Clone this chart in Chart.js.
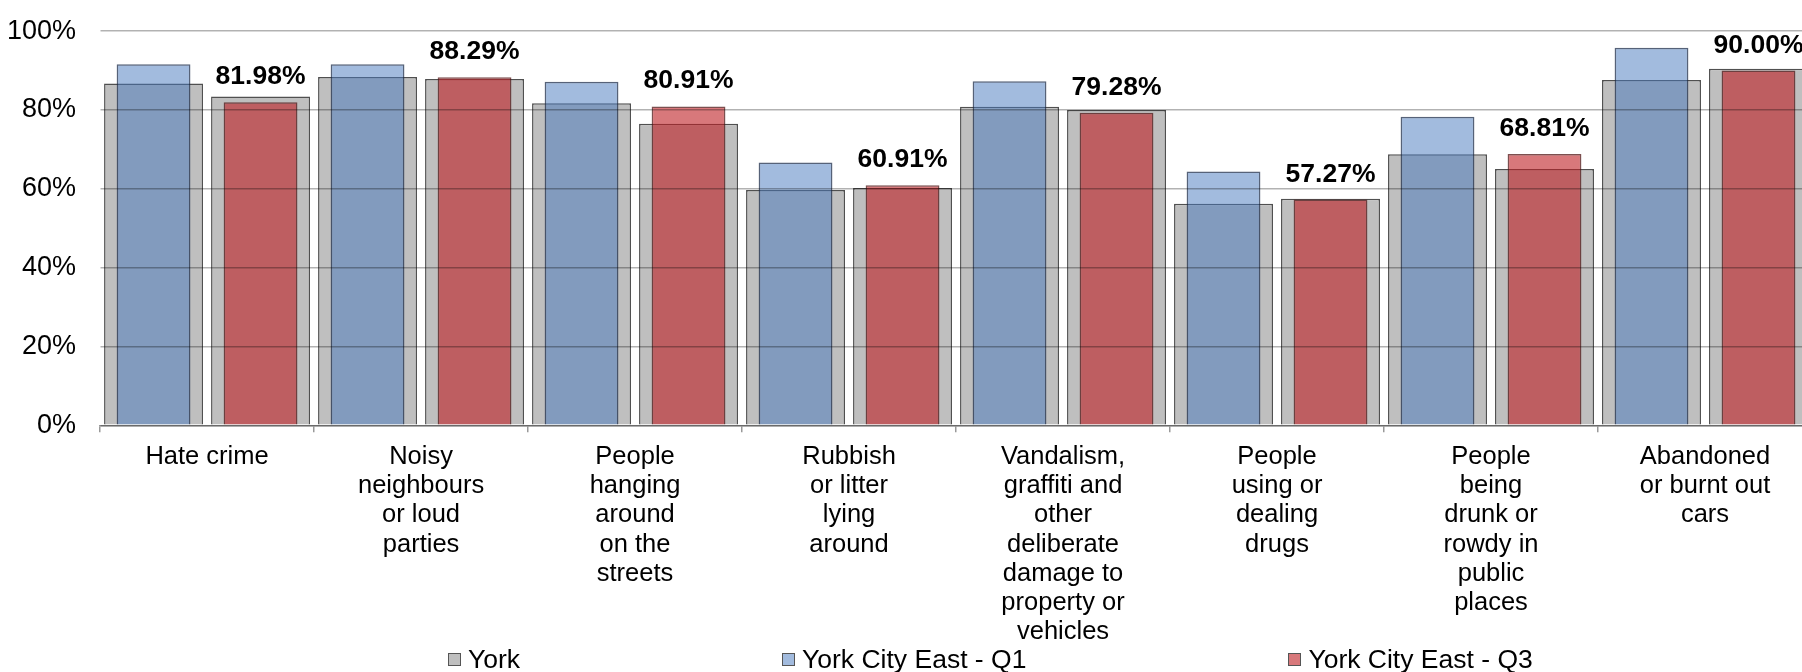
<!DOCTYPE html>
<html>
<head>
<meta charset="utf-8">
<script src="https://cdn.jsdelivr.net/npm/chart.js@4.4.1/dist/chart.umd.min.js"></script>
<style>
html, body { margin: 0; padding: 0; background: #fff; overflow: hidden; width: 1802px; height: 672px; }
#wrap { position: absolute; left: -17px; top: -9px; width: 1999px; height: 681px; }
#legend { position: absolute; left: 448px; top: 645px; display: flex; align-items: center;
  font-family: "Liberation Sans", Arial, sans-serif; font-size: 26.5px; line-height: 28px; color: #000; white-space: nowrap; }
.item { display: flex; align-items: center; margin-right: 262px; }
.box { width: 11px; height: 11px; border: 1px solid #555; margin-right: 7px; }
</style>
</head>
<body>
<div id="wrap"><canvas id="chart"></canvas></div>
<div id="legend"></div>
<script>
// ===============================
// Data
// ===============================
const categories = [
	["Hate crime"],
	["Noisy", "neighbours", "or loud", "parties"],
	["People", "hanging", "around", "on the", "streets"],
	["Rubbish", "or litter", "lying", "around"],
	["Vandalism,", "graffiti and", "other", "deliberate", "damage to", "property or", "vehicles"],
	["People", "using or", "dealing", "drugs"],
	["People", "being", "drunk or", "rowdy in", "public", "places"],
	["Abandoned", "or burnt out", "cars"]
];
// York figure shown behind each quarter's bar
const yorkAtQ1 = [86.7, 88.4, 81.7, 59.7, 80.8, 56.2, 68.8, 87.6];
const yorkAtQ3 = [83.4, 87.9, 76.5, 60.2, 80.0, 57.5, 65.0, 90.5];
const cityEastQ1 = [91.6, 91.6, 87.2, 66.7, 87.3, 64.4, 78.3, 95.8];
const cityEastQ3 = [81.98, 88.29, 80.91, 60.91, 79.28, 57.27, 68.81, 90.00];
const yTicks = [0, 20, 40, 60, 80, 100];

// two bar slots per category: Q1 slot then Q3 slot
const slotLabels = categories.flatMap((c, i) => ["q1-" + i, "q3-" + i]);
const yorkSlots = yorkAtQ1.flatMap((v, i) => [v, yorkAtQ3[i]]);
const q1Slots = cityEastQ1.flatMap(v => [v, null]);
const q3Slots = cityEastQ3.flatMap(v => [null, v]);

// ===============================
// Styles
// ===============================
const FONT = '"Liberation Sans", Arial, sans-serif';
const greyFill = "#bfbfbf", greyLine = "#505050";
const blueFill = "rgba(70, 120, 190, 0.5)", blueLine = "rgba(30, 45, 75, 0.75)";
const redFill = "rgba(190, 30, 35, 0.6)", redLine = "rgba(80, 20, 20, 0.75)";

Chart.defaults.font.family = FONT;
Chart.defaults.color = "#000";

// ===============================
// Value labels over the Q3 bars
// ===============================
const valueLabels = {
	id: "valueLabels",
	afterDraw(chart) {
		const meta = chart.getDatasetMeta(2);
		const ctx = chart.ctx;
		ctx.save();
		ctx.font = "bold 26.5px " + FONT;
		ctx.fillStyle = "#000";
		ctx.textAlign = "center";
		ctx.textBaseline = "alphabetic";
		cityEastQ3.forEach((v, i) => {
			const bar = meta.data[2 * i + 1];
			ctx.fillText(v.toFixed(2) + "%", bar.x, bar.y - 18);
		});
		ctx.restore();
	}
};

const barCommon = { xAxisID: "xSlots", grouped: false, categoryPercentage: 1, borderWidth: 1.5 };

const chart = new Chart(document.getElementById("chart"), {
	type: "bar",
	data: {
		labels: slotLabels,
		datasets: [
			{ ...barCommon, label: "York", data: yorkSlots, order: 1,
			  backgroundColor: greyFill, borderColor: greyLine, barPercentage: 0.925 },
			{ ...barCommon, label: "York City East - Q1", data: q1Slots, order: 0,
			  backgroundColor: blueFill, borderColor: blueLine, barPercentage: 0.69 },
			{ ...barCommon, label: "York City East - Q3", data: q3Slots, order: 0,
			  backgroundColor: redFill, borderColor: redLine, barPercentage: 0.69 }
		]
	},
	options: {
		responsive: true,
		maintainAspectRatio: false,
		animation: false,
		devicePixelRatio: 1,
		layout: { padding: { left: 0, right: 170, top: 7, bottom: 15 } },
		plugins: {
			legend: { display: false },
			tooltip: { enabled: false }
		},
		scales: {
			x: {
				type: "category",
				labels: categories,
				offset: true,
				grid: { offset: true, drawOnChartArea: false, tickLength: 7, color: "#999", lineWidth: 1.5 },
				border: { color: "#999", width: 1.5 },
				ticks: { color: "#000", font: { size: 25.5, lineHeight: 1.147 }, padding: 10, maxRotation: 0, autoSkip: false }
			},
			xSlots: { type: "category", labels: slotLabels, offset: true, display: false },
			y: {
				min: yTicks[0],
				max: yTicks[yTicks.length - 1],
				afterBuildTicks: (axis) => { axis.ticks = yTicks.map(v => ({ value: v })); },
				ticks: { color: "#000", font: { size: 27 }, padding: 24, callback: (v) => v + "%" },
				grid: { color: "rgba(0, 0, 0, 0.3)", lineWidth: 1.5, drawTicks: false, z: 1 },
				border: { color: "#999", width: 1.5 }
			}
		}
	},
	plugins: [valueLabels]
});

// ===============================
// HTML legend
// ===============================
const legend = document.getElementById("legend");
chart.data.datasets.forEach((ds) => {
	const item = document.createElement("div");
	item.className = "item";
	const box = document.createElement("span");
	box.className = "box";
	box.style.background = ds.backgroundColor;
	const text = document.createElement("span");
	text.textContent = ds.label;
	item.appendChild(box);
	item.appendChild(text);
	legend.appendChild(item);
});
</script>
</body>
</html>
